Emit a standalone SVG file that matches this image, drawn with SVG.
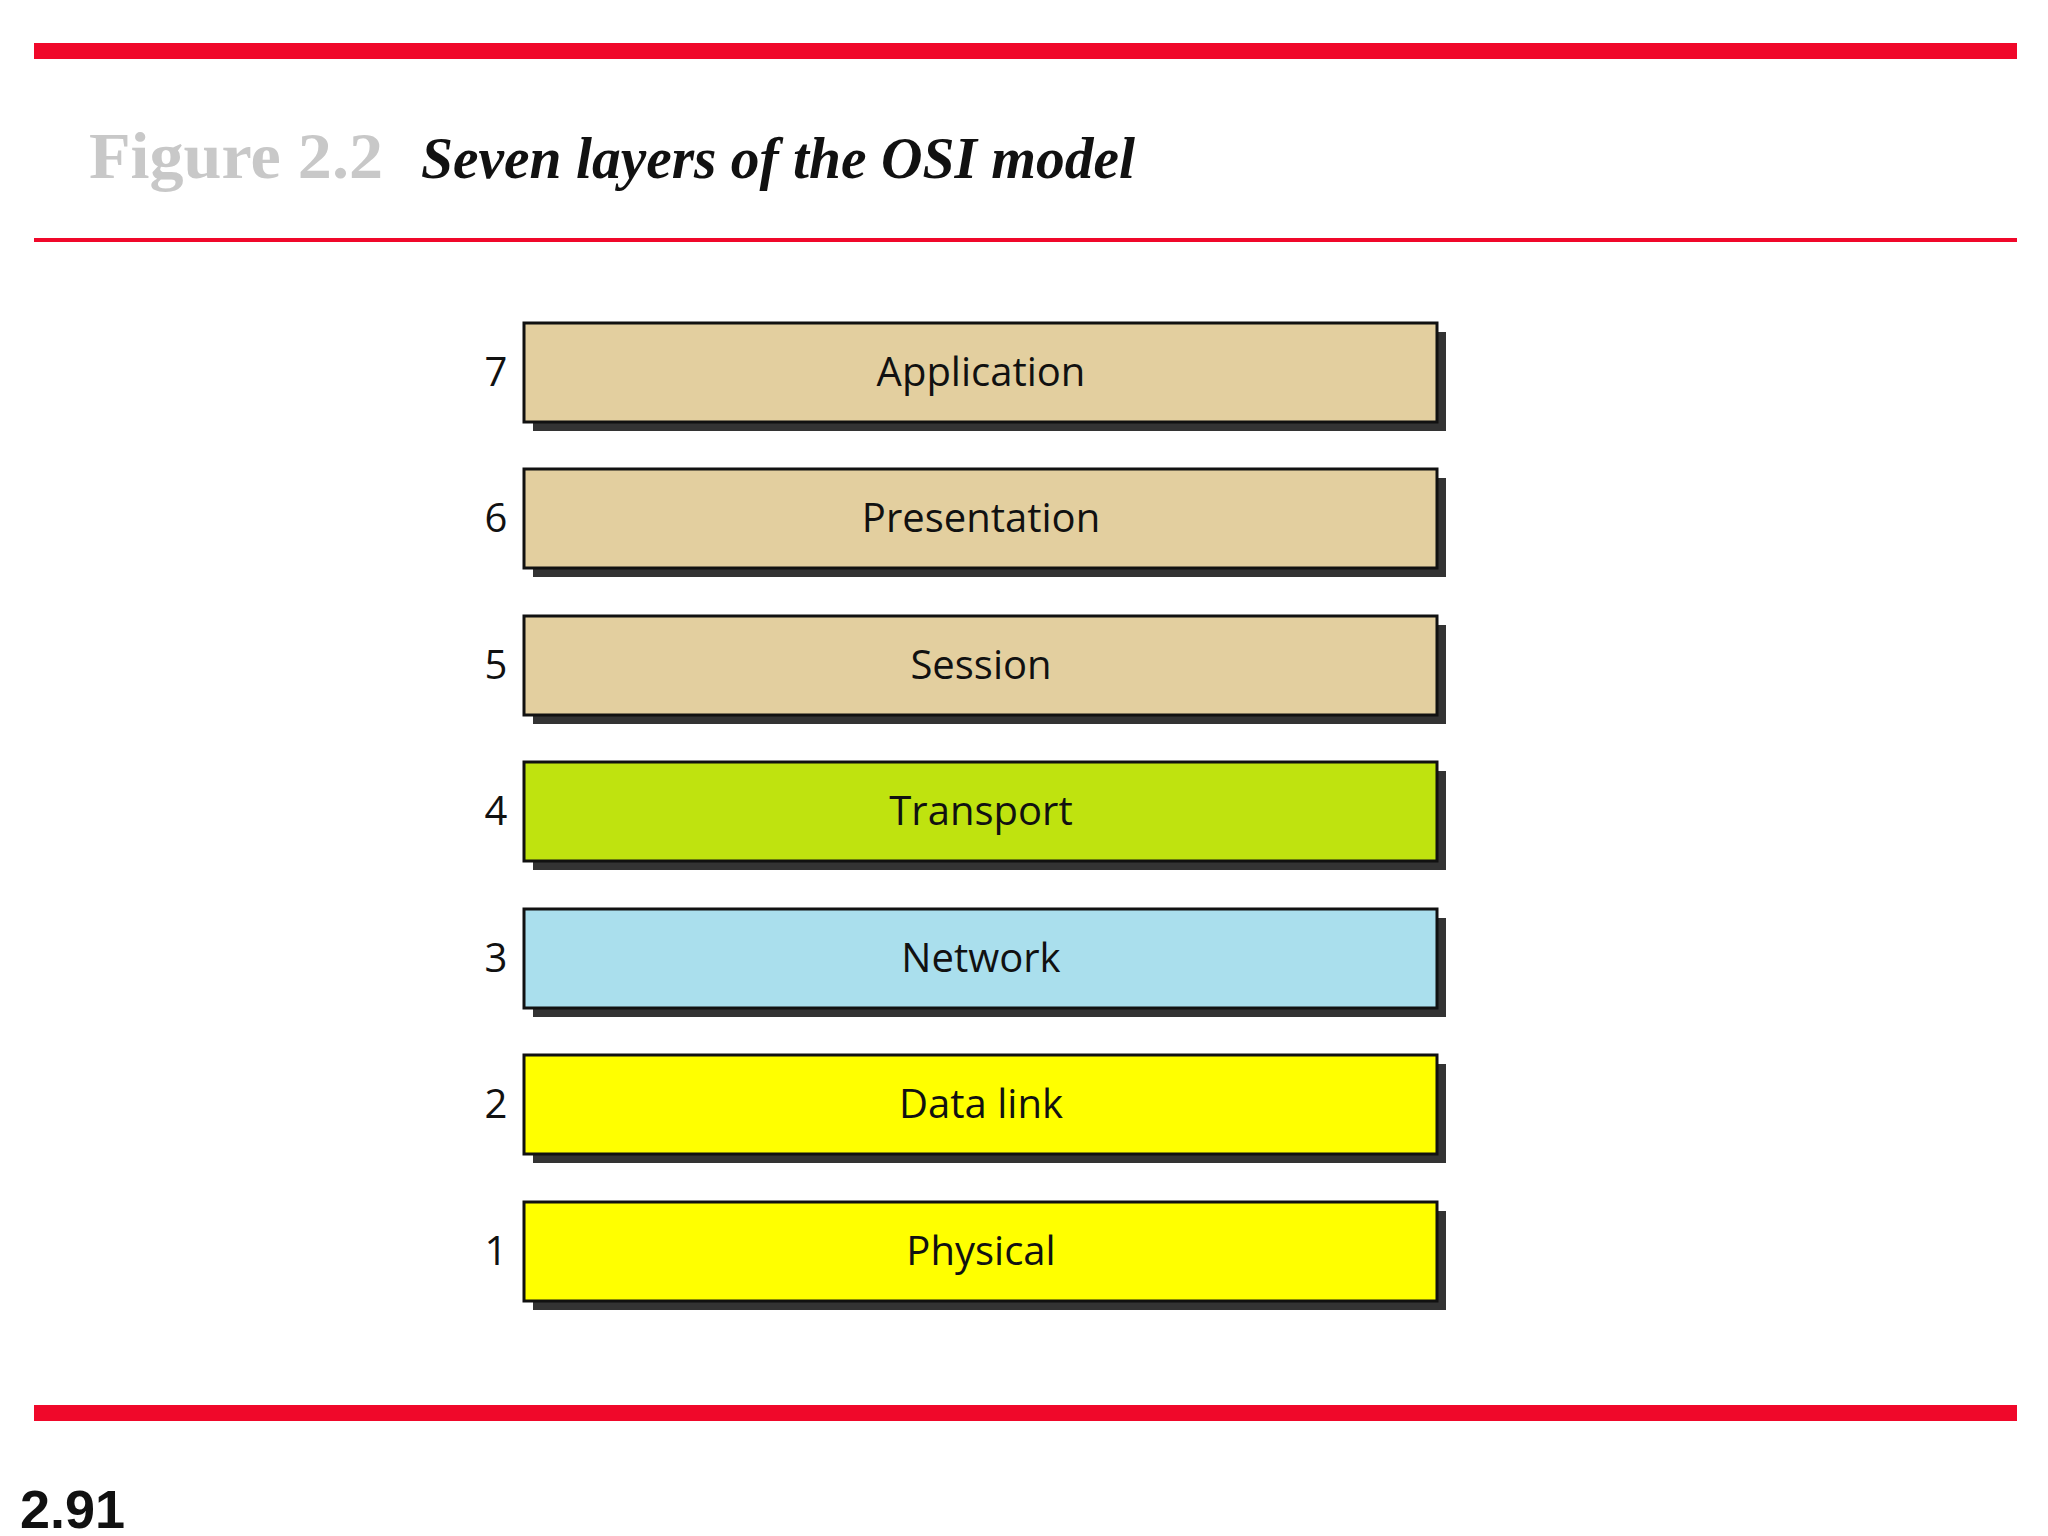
<svg xmlns="http://www.w3.org/2000/svg" width="2048" height="1536" viewBox="0 0 2048 1536">
<style>
.bar{fill:#f0082a}
.box{stroke:#111;stroke-width:3}
.sh{fill:#333}
.lbl{font-family:"Open Sans","Liberation Sans",sans-serif;font-size:40px;fill:#111;text-anchor:middle}
</style>
<rect width="2048" height="1536" fill="#fff"/>
<rect class="bar" x="34" y="43" width="1983" height="16"/>
<rect class="bar" x="34" y="238" width="1983" height="4"/>
<rect class="bar" x="34" y="1405" width="1983" height="16"/>
<text x="89" y="178" font-family="Liberation Serif,serif" font-weight="bold" font-size="66" fill="#c8c8c8" textLength="294" lengthAdjust="spacingAndGlyphs">Figure 2.2</text>
<text x="421" y="178" font-family="Liberation Serif,serif" font-weight="bold" font-style="italic" font-size="60" fill="#111" textLength="714" lengthAdjust="spacingAndGlyphs">Seven layers of the OSI model</text>
<text x="20" y="1528" font-family="Liberation Sans,sans-serif" font-weight="bold" font-size="54" fill="#111">2.91</text>
<g id="L7"><rect class="sh" x="533" y="332" width="913" height="99"/><rect class="box" x="524" y="323" width="913" height="99" fill="#e3cf9f"/><text class="lbl" x="981" y="386">Application</text><text class="lbl" x="496" y="386">7</text></g>
<g id="L6"><rect class="sh" x="533" y="478" width="913" height="99"/><rect class="box" x="524" y="469" width="913" height="99" fill="#e3cf9f"/><text class="lbl" x="981" y="532">Presentation</text><text class="lbl" x="496" y="532">6</text></g>
<g id="L5"><rect class="sh" x="533" y="625" width="913" height="99"/><rect class="box" x="524" y="616" width="913" height="99" fill="#e3cf9f"/><text class="lbl" x="981" y="679">Session</text><text class="lbl" x="496" y="679">5</text></g>
<g id="L4"><rect class="sh" x="533" y="771" width="913" height="99"/><rect class="box" x="524" y="762" width="913" height="99" fill="#bfe30f"/><text class="lbl" x="981" y="825">Transport</text><text class="lbl" x="496" y="825">4</text></g>
<g id="L3"><rect class="sh" x="533" y="918" width="913" height="99"/><rect class="box" x="524" y="909" width="913" height="99" fill="#aadfed"/><text class="lbl" x="981" y="972">Network</text><text class="lbl" x="496" y="972">3</text></g>
<g id="L2"><rect class="sh" x="533" y="1064" width="913" height="99"/><rect class="box" x="524" y="1055" width="913" height="99" fill="#ffff00"/><text class="lbl" x="981" y="1118">Data link</text><text class="lbl" x="496" y="1118">2</text></g>
<g id="L1"><rect class="sh" x="533" y="1211" width="913" height="99"/><rect class="box" x="524" y="1202" width="913" height="99" fill="#ffff00"/><text class="lbl" x="981" y="1265">Physical</text><text class="lbl" x="496" y="1265">1</text></g>
<g id="connectors"/>
</svg>
